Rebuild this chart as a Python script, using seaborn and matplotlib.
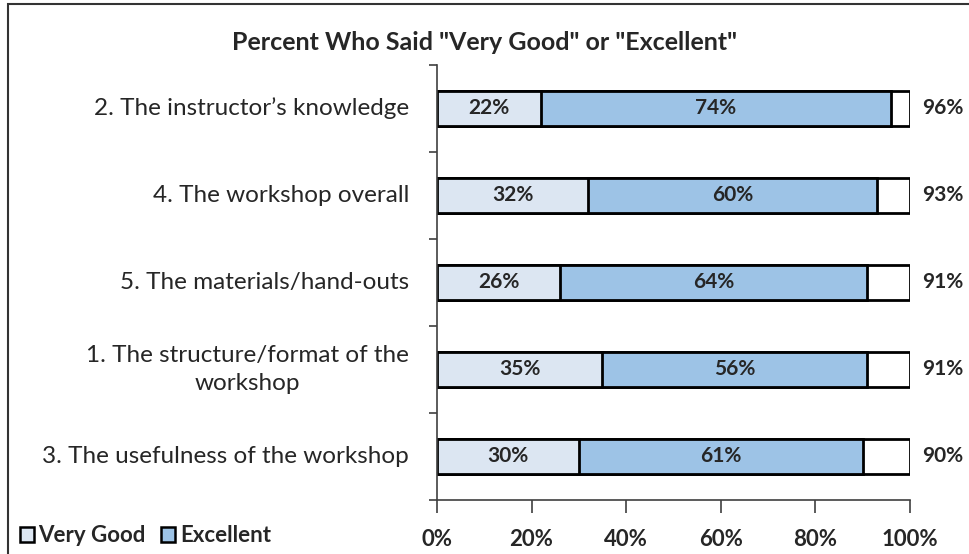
import matplotlib.pyplot as plt
import matplotlib.patches as mpatches
import pandas as pd
import seaborn as sns

items = ['2. The instructor’s knowledge',
         '4. The workshop overall',
         '5. The materials/hand-outs',
         '1. The structure/format of the\nworkshop',
         '3. The usefulness of the workshop']
very_good = [22, 32, 26, 35, 30]
excellent = [74, 60, 64, 56, 61]
total = [96, 93, 91, 91, 90]
x_ticks = [0, 20, 40, 60, 80, 100]

df = pd.DataFrame({'item': items, 'vg': very_good, 'ex': excellent, 'total': total})
df['full'] = 100

sns.set_style('ticks')
plt.rcParams['font.family'] = ['Lato', 'DejaVu Sans']

c_vg = '#DCE6F2'
c_ex = '#9DC3E6'

fig = plt.figure(figsize=(9.7, 5.54), dpi=100)
ax = fig.add_axes([0.4505, 0.0975, 0.4875, 0.7852])

common = dict(y='item', orient='h', width=0.40, edgecolor='black', linewidth=2,
              saturation=1, errorbar=None, ax=ax)
sns.barplot(data=df, x='full', color='white', **common)
sns.barplot(data=df, x='total', color=c_ex, **common)
sns.barplot(data=df, x='vg', color=c_vg, **common)

# labels inside and after the bars, category names on the left
for i, row in df.iterrows():
    ax.text(row['vg'] / 2, i, f"{row['vg']}%", ha='center', va='center',
            fontsize=15, fontweight='bold')
    ax.text((row['vg'] + row['total']) / 2, i, f"{row['ex']}%", ha='center', va='center',
            fontsize=15, fontweight='bold')
    ax.text(102.5, i, f"{row['total']}%", ha='left', va='center',
            fontsize=15, fontweight='bold', clip_on=False)
    ax.text(-5.9, i, row['item'], ha='right', va='center', multialignment='center',
            linespacing=1.45, fontsize=17.5, clip_on=False)

ax.set_xlim(0, 100)
ax.set_ylim(4.5, -0.5)
ax.set_xlabel('')
ax.set_ylabel('')
ax.set_xticks(x_ticks)
ax.set_xticklabels([f'{t}%' for t in x_ticks], fontsize=16, fontweight='bold')
ax.tick_params(axis='x', length=9, width=1.2, pad=12, color='#404040')
ax.set_yticks([i - 0.5 for i in range(len(items) + 1)])
ax.set_yticklabels([])
ax.tick_params(axis='y', length=6, width=1.2, color='#404040')
for s in ['top', 'right']:
    ax.spines[s].set_visible(False)
for s in ['left', 'bottom']:
    ax.spines[s].set_color('#404040')
    ax.spines[s].set_linewidth(1.2)

fig.text(0.5, 1 - 43 / 554, 'Percent Who Said "Very Good" or "Excellent"',
         ha='center', va='center', fontsize=18, fontweight='bold')

handles = [mpatches.Patch(facecolor=c_vg, edgecolor='black', linewidth=1.8, label='Very Good'),
           mpatches.Patch(facecolor=c_ex, edgecolor='black', linewidth=1.8, label='Excellent')]
fig.legend(handles=handles, loc='center left', bbox_to_anchor=(20 / 970, 1 - 536 / 554),
           frameon=False, ncol=2, prop={'weight': 'bold', 'size': 16},
           handlelength=0.63, handleheight=0.63, columnspacing=0.7, handletextpad=0.2,
           borderpad=0, borderaxespad=0)

# chart frame
fig.add_artist(mpatches.Rectangle((8 / 970, -0.05), 1.1, 1.05 - 4 / 554,
                                  transform=fig.transFigure, fill=False,
                                  edgecolor='#333333', linewidth=1.5, clip_on=False))

fig.savefig('out.png', dpi=100)
